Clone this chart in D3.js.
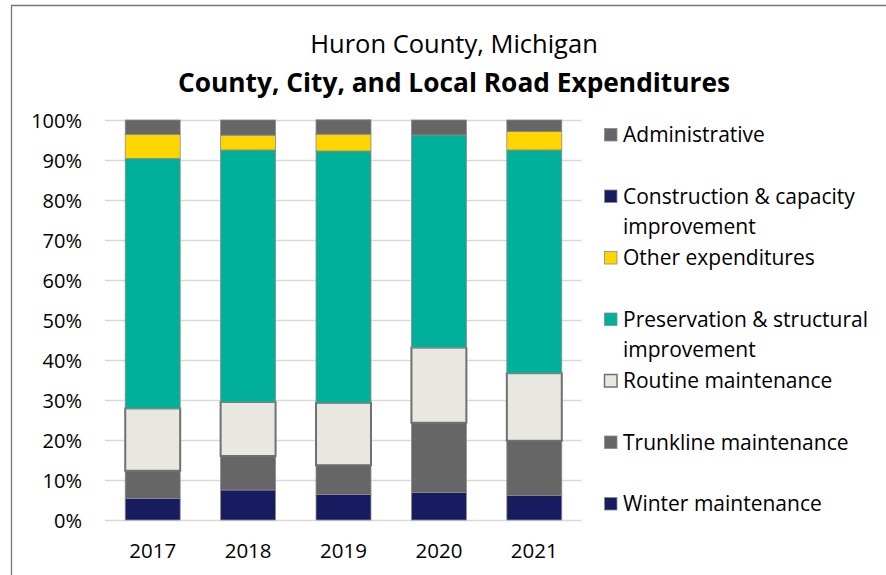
<!DOCTYPE html>
<html>
<head>
<meta charset="utf-8">
<script src="https://cdn.jsdelivr.net/npm/d3@7/dist/d3.min.js"></script>
<style>
  body { margin: 0; background: #fff; }
  svg { display: block; }
  text { font-family: "Open Sans", "Noto Sans", sans-serif; fill: #000; }
</style>
</head>
<body>
<svg id="chart" width="886" height="575"></svg>
<script>
// ---- data (percent of total) ----
const years = ["2017", "2018", "2019", "2020", "2021"];
const winter       = [5.4, 7.5, 6.4, 6.9, 6.1];
const trunkline    = [6.9, 8.5, 7.3, 17.4, 13.7];
const routine      = [15.6, 13.5, 15.6, 18.8, 16.9];
const preservation = [62.5, 63.0, 62.95, 53.15, 55.8];
const other        = [6.0, 3.7, 4.2, 0.0, 4.6];
const construction = [0.0, 0.0, 0.0, 0.0, 0.0];
const administrative = [3.6, 3.8, 3.6, 3.75, 2.9];
const tickLabels = ["0%", "10%", "20%", "30%", "40%", "50%", "60%", "70%", "80%", "90%", "100%"];

const seriesNames = ["Winter maintenance", "Trunkline maintenance", "Routine maintenance",
  "Preservation & structural improvement", "Other expenditures",
  "Construction & capacity improvement", "Administrative"];
const seriesValues = [winter, trunkline, routine, preservation, other, construction, administrative];
const seriesColors = ["#171c61", "#666666", "#e8e8e0", "#00b09b", "#ffd500", "#171c61", "#666666"];
const legendLines = {
  "Administrative": ["Administrative"],
  "Construction & capacity improvement": ["Construction & capacity", "improvement"],
  "Other expenditures": ["Other expenditures"],
  "Preservation & structural improvement": ["Preservation & structural", "improvement"],
  "Routine maintenance": ["Routine maintenance"],
  "Trunkline maintenance": ["Trunkline maintenance"],
  "Winter maintenance": ["Winter maintenance"]
};

// ---- build table ----
const table = years.map((y, i) => {
  const row = { year: y };
  seriesNames.forEach((s, j) => { row[s] = seriesValues[j][i] / 100; });
  return row;
});
const stacked = d3.stack().keys(seriesNames)(table);

const svg = d3.select("#chart");

// outer frame
svg.append("path").attr("d", "M11.5,575 L11.5,5.5 L886,5.5")
  .attr("fill", "none").attr("stroke", "#767676").attr("stroke-width", 1.3);

// titles
svg.append("text").attr("x", 454).attr("y", 53).attr("text-anchor", "middle")
  .style("font-size", "25.5px").text("Huron County, Michigan");
svg.append("text").attr("x", 454).attr("y", 92).attr("text-anchor", "middle")
  .style("font-size", "26.3px").style("font-weight", "bold")
  .text("County, City, and Local Road Expenditures");

// scales
const x = d3.scaleBand().domain(years).range([105, 582]).paddingInner(0.424).paddingOuter(0.212);
const y = d3.scaleLinear().domain([0, 1]).range([520, 120]);

// gridlines
const yAxis = d3.axisLeft(y).tickValues(d3.range(0, 11).map(d => d / 10))
  .tickSize(-(582 - 105)).tickFormat((d, i) => tickLabels[i]);
const gy = svg.append("g").attr("transform", "translate(105,0)").call(yAxis);
gy.select(".domain").remove();
gy.selectAll(".tick line").attr("stroke", "#d9d9d9").attr("stroke-width", 1.5);
gy.selectAll(".tick text").attr("x", -23).attr("dy", "0.35em")
  .style("font-size", "20px").style("font-family", "Open Sans").attr("fill", "#000");

// x axis labels
const xAxis = d3.axisBottom(x).tickSize(0);
const gx = svg.append("g").attr("transform", "translate(0,520)").call(xAxis);
gx.select(".domain").remove();
gx.selectAll(".tick text").attr("y", 38).attr("dy", 0)
  .style("font-size", "20.5px").style("font-family", "Open Sans").attr("fill", "#000");

// bars
const layers = svg.append("g").selectAll("g").data(stacked).join("g")
  .attr("fill", (d, i) => seriesColors[i]);
layers.each(function(layer, i) {
  const isRoutine = seriesNames[i] === "Routine maintenance";
  d3.select(this).selectAll("rect").data(layer.filter(d => d[1] - d[0] > 0)).join("rect")
    .attr("x", d => x(d.data.year))
    .attr("width", x.bandwidth())
    .attr("y", d => y(d[1]))
    .attr("height", d => y(d[0]) - y(d[1]))
    .attr("stroke", isRoutine ? "#707070" : "#8a8a8a")
    .attr("stroke-width", isRoutine ? 2 : 0.8);
});

// legend
const legendOrder = seriesNames.slice().reverse();
const ly = d3.scalePoint().domain(legendOrder).range([135, 504]);
const legend = svg.append("g").selectAll("g").data(legendOrder).join("g")
  .attr("transform", d => `translate(604,${ly(d)})`);
legend.append("rect").attr("x", 0.5).attr("y", -6.5).attr("width", 12.5).attr("height", 12.5)
  .attr("fill", d => seriesColors[seriesNames.indexOf(d)])
  .attr("stroke", d => d === "Routine maintenance" ? "#707070" : "#8a8a8a")
  .attr("stroke-width", d => d === "Routine maintenance" ? 1.5 : 0.8);
legend.each(function(d) {
  const g = d3.select(this);
  legendLines[d].forEach((line, k) => {
    g.append("text").attr("x", 19).attr("y", k * 30).attr("dy", "0.35em")
      .style("font-size", "21px").text(line);
  });
});
</script>
</body>
</html>
